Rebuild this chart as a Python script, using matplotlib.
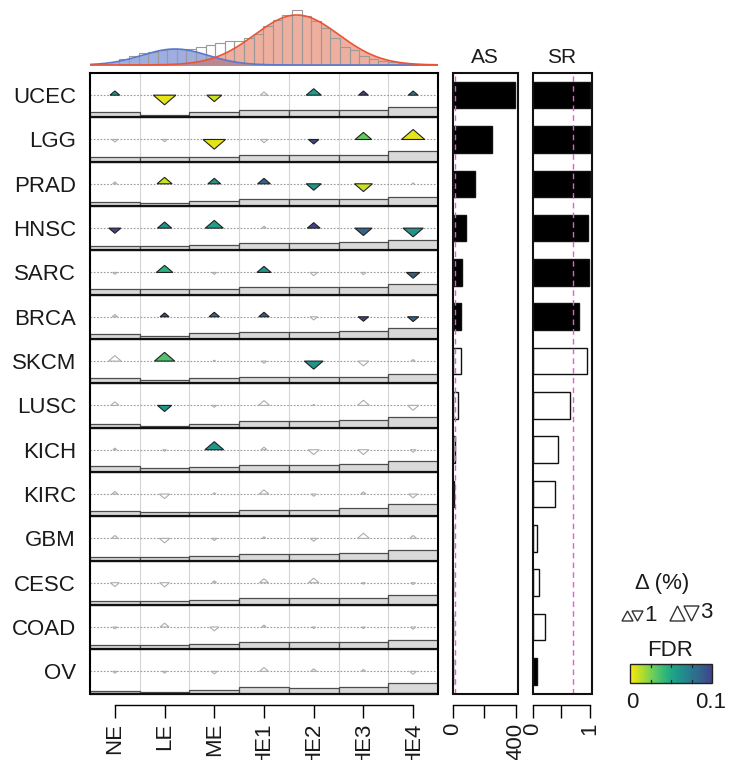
import numpy as np
import matplotlib
matplotlib.use('Agg')
import matplotlib.pyplot as plt
from matplotlib.patches import Polygon, Rectangle

plt.rcParams['font.family'] = ['Liberation Sans', 'DejaVu Sans']

# ---------------- data ----------------
cancers = ['UCEC', 'LGG', 'PRAD', 'HNSC', 'SARC', 'BRCA', 'SKCM',
           'LUSC', 'KICH', 'KIRC', 'GBM', 'CESC', 'COAD', 'OV']
groups = ['NE', 'LE', 'ME', 'HE1', 'HE2', 'HE3', 'HE4']

NS = 1.0  # FDR of non-significant changes (drawn as grey outlines)

# change in percent (sign = direction of triangle)
delta_pct = [
    [ 1.3, -3.0, -2.0,  1.0,  2.0,  1.3,  1.3],   # UCEC
    [-0.8, -0.7, -3.0, -1.0, -1.4,  2.2,  3.1],   # LGG
    [ 0.6,  2.0,  1.7,  1.7, -2.0, -2.4,  0.3],   # PRAD
    [-1.6,  1.9,  2.4,  0.6,  1.7, -2.3, -2.7],   # HNSC
    [-0.6,  2.2, -0.6,  1.9, -1.0, -0.7, -1.8],   # SARC
    [ 0.7,  1.2,  1.4,  1.4, -1.0, -1.4, -1.5],   # BRCA
    [ 1.7,  2.7,  0.3, -0.7, -2.5, -1.5,  0.5],   # SKCM
    [ 1.1, -1.9, -0.6,  1.5,  0.3,  1.6, -1.5],   # LUSC
    [ 0.5, -0.5,  2.5,  0.8, -1.5, -1.5, -0.8],   # KICH
    [ 0.8, -1.4,  0.4,  1.3, -0.7,  0.7, -1.2],   # KIRC
    [ 0.9, -1.4, -0.7,  0.5, -0.9,  1.6,  0.9],   # GBM
    [-1.2, -1.3,  0.6,  1.2,  1.4, -0.5, -0.6],   # CESC
    [-0.6,  1.2, -1.2,  0.6, -0.5, -0.5, -0.7],   # COAD
    [-0.6, -0.6, -0.8,  1.2,  0.8,  0.6, -0.9],   # OV
]

fdr_vals = [
    [0.056, 0.005, 0.010, NS,    0.055, 0.100, 0.075],  # UCEC
    [NS,    NS,    0.005, NS,    0.100, 0.030, 0.005],  # LGG
    [NS,    0.010, 0.060, 0.085, 0.060, 0.010, NS],     # PRAD
    [0.100, 0.060, 0.055, NS,    0.100, 0.085, 0.060],  # HNSC
    [NS,    0.045, NS,    0.060, NS,    NS,    0.090],  # SARC
    [NS,    0.100, 0.085, 0.090, NS,    0.100, 0.085],  # BRCA
    [NS,    0.035, NS,    NS,    0.060, NS,    NS],     # SKCM
    [NS,    0.060, NS,    NS,    NS,    NS,    NS],     # LUSC
    [NS,    NS,    0.060, NS,    NS,    NS,    NS],     # KICH
    [NS,    NS,    NS,    NS,    NS,    NS,    NS],     # KIRC
    [NS,    NS,    NS,    NS,    NS,    NS,    NS],     # GBM
    [NS,    NS,    NS,    NS,    NS,    NS,    NS],     # CESC
    [NS,    NS,    NS,    NS,    NS,    NS,    NS],     # COAD
    [NS,    NS,    NS,    NS,    NS,    NS,    NS],     # OV
]

# relative group sizes (grey step bars at the bottom of each row)
group_size = [
    [5.0, 2.7, 5.7, 7.3, 7.3, 7.3, 10.0],   # UCEC
    [4.3, 4.3, 4.3, 6.7, 6.7, 6.7, 10.7],   # LGG
    [4.3, 2.5, 5.0, 6.7, 6.7, 6.7, 9.3],    # PRAD
    [4.7, 4.0, 5.7, 7.3, 7.3, 8.3, 10.7],   # HNSC
    [5.3, 5.3, 5.3, 7.3, 7.3, 7.3, 11.0],   # SARC
    [5.0, 3.3, 5.7, 6.7, 6.7, 7.7, 10.7],   # BRCA
    [5.7, 3.3, 5.7, 6.7, 6.7, 6.7, 9.7],    # SKCM
    [4.0, 1.7, 4.0, 6.7, 6.7, 7.3, 10.7],   # LUSC
    [6.0, 4.0, 5.0, 7.3, 7.3, 8.3, 11.0],   # KICH
    [5.0, 4.0, 4.0, 6.3, 6.3, 8.0, 12.3],   # KIRC
    [3.3, 3.3, 4.3, 6.7, 6.7, 7.3, 11.0],   # GBM
    [4.3, 3.7, 5.0, 6.7, 6.7, 6.7, 10.0],   # CESC
    [4.3, 3.7, 5.0, 6.7, 6.7, 6.7, 9.3],    # COAD
    [2.7, 1.7, 4.0, 6.7, 5.7, 6.7, 10.0],   # OV
]

as_score = [398, 250, 143, 86, 60, 54, 52, 33, 17, 9, 6, 4, 4, 3]
as_filled = [1, 1, 1, 1, 1, 1, 0, 0, 0, 0, 0, 0, 0, 0]
as_cutoff = 16

sr_score = [1.0, 1.0, 1.0, 0.965, 0.98, 0.81, 0.95, 0.66, 0.44, 0.39,
            0.07, 0.11, 0.21, 0.07]
sr_filled = [1, 1, 1, 1, 1, 1, 0, 0, 0, 0, 0, 0, 0, 1]
sr_cutoff = 0.70

# top histogram (bin heights) and two-component mixture fit
hist_counts = [6, 9, 12, 13, 15, 16, 16, 16, 18, 20, 22, 24, 24, 27, 31,
               39, 45, 50, 55, 49, 44, 37, 27, 18, 15, 9, 6, 4, 3, 2, 1]
hist_start = 0.09
hist_width = 0.193
mix_means = [1.21, 3.66]
mix_sds = [0.66, 0.845]
mix_peaks = [16, 50]
mix_fill = ['#3f5fc4', '#e0603f']
mix_line = ['#5a78cc', '#ea5435']

legend_sizes = [1, 3]
fdr_ticks = [0.025, 0.05, 0.075]

# ---------------- styling helpers ----------------
W, H = 729, 760
fig = plt.figure(figsize=(W / 100, H / 100), dpi=100)
cmap = plt.get_cmap('viridis')


def fdr_color(f):
    return cmap(1.0 - 8.0 * f)


def fx(px):
    return px / W


def fy(py):
    return 1 - py / H


top_px, bot_px = 73, 693.5
main_l, main_r = 90, 438
nrow = len(cancers)
row_px = (bot_px - top_px) / nrow
col_px = (main_r - main_l) / len(groups)
TXT = '#1a1a1a'

# ---------------- main panel ----------------
ax = fig.add_axes([fx(main_l), fy(bot_px), fx(main_r - main_l), (bot_px - top_px) / H])
ax.set_xlim(-0.5, 6.5)
ax.set_ylim(nrow, 0)

for j in range(len(groups) - 1):
    ax.axvline(j + 0.5, color='#d4d4d4', lw=0.8, zorder=0)

for i in range(nrow):
    yc = i + 0.5
    ax.plot([-0.5, 6.5], [yc, yc], color='#9a9a9a', lw=0.8,
            linestyle=(0, (1.5, 1.5)), zorder=1)
    hts = np.array(group_size[i]) / row_px
    ax.bar(range(len(groups)), hts, bottom=i + 1 - hts, width=1.0,
           color='#d9d9d9', edgecolor='#4d4d4d', lw=0.9, zorder=2)
    for j in range(len(groups)):
        d = delta_pct[i][j]
        f = fdr_vals[i][j]
        w = 7.5 * abs(d) / col_px
        h = 0.43 * 7.5 * abs(d) / row_px
        tip = yc - h if d > 0 else yc + h
        pts = [(j - w / 2, yc), (j + w / 2, yc), (j, tip)]
        if f <= 0.1:
            poly = Polygon(pts, closed=True, facecolor=fdr_color(f),
                           edgecolor='#222222', lw=0.8, zorder=4)
        else:
            poly = Polygon(pts, closed=True, facecolor='white',
                           edgecolor='#adadad', lw=0.8, zorder=3)
        ax.add_patch(poly)

for i in range(1, nrow + 1):
    ax.plot([-0.5, 6.5], [i, i], color='#111111', lw=1.6, zorder=5,
            clip_on=False, solid_capstyle='butt')

for s in ['top', 'left', 'right']:
    ax.spines[s].set_linewidth(1.5)
    ax.spines[s].set_zorder(6)
ax.spines['bottom'].set_position(('outward', 8.5))
ax.spines['bottom'].set_bounds(0, 6)
ax.spines['bottom'].set_linewidth(1.0)

ax.set_yticks(np.arange(nrow) + 0.5)
ax.set_yticklabels(cancers, fontsize=16, color=TXT)
ax.tick_params(axis='y', length=0, pad=10)
ax.set_xticks(range(len(groups)))
ax.set_xticklabels(groups, rotation=90, fontsize=16, color=TXT)
ax.tick_params(axis='x', direction='out', length=9.5, width=1.0, pad=3)

# ---------------- AS / SR panels ----------------


def side_panel(left_px, right_px, values, filled, cutoff, xlim, ticks, ticklabels, title):
    a = fig.add_axes([fx(left_px), fy(bot_px), fx(right_px - left_px), (bot_px - top_px) / H])
    a.set_xlim(*xlim)
    a.set_ylim(nrow, 0)
    y = np.arange(nrow) + 0.5
    fc = ['black' if k else 'white' for k in filled]
    a.barh(y, values, height=0.6, color=fc, edgecolor='#111111', lw=1.0, zorder=2)
    a.axvline(cutoff, color='#dd60cc', lw=1.0, linestyle=(0, (4, 3)), zorder=3)
    a.add_patch(Rectangle((0, 0), 1, 1, transform=a.transAxes, fill=False,
                          lw=1.5, edgecolor='#111111', clip_on=False, zorder=6))
    for s in ['top', 'left', 'right']:
        a.spines[s].set_visible(False)
    a.spines['bottom'].set_position(('outward', 8.5))
    a.spines['bottom'].set_bounds(ticks[0], ticks[-1])
    a.spines['bottom'].set_linewidth(1.0)
    a.set_yticks([])
    a.set_xticks(ticks)
    a.set_xticklabels(ticklabels, rotation=90, fontsize=16, color=TXT)
    a.tick_params(axis='x', direction='out', length=9.5, width=1.0, pad=3)
    a.set_title(title, fontsize=15, pad=7, color=TXT)
    return a


side_panel(452.5, 517.5, as_score, as_filled, as_cutoff, (0, 412),
           [0, 200, 400], ['0', '', '400'], 'AS')
side_panel(532.5, 591.5, sr_score, sr_filled, sr_cutoff, (0, 1.026),
           [0, 0.5, 1], ['0', '', '1'], 'SR')

# ---------------- top histogram ----------------
axh = fig.add_axes([fx(main_l), fy(66), fx(main_r - main_l), 62 / H])
axh.set_xlim(-0.5, 6.5)
axh.set_ylim(-1, 61)
axh.axis('off')
xs = np.linspace(-0.5, 6.5, 500)
for m, s, p, fcol, lcol in zip(mix_means, mix_sds, mix_peaks, mix_fill, mix_line):
    yv = p * np.exp(-0.5 * ((xs - m) / s) ** 2)
    axh.fill_between(xs, 0, yv, color=fcol, alpha=0.5, lw=0, zorder=1)
    axh.plot(xs, yv, color=lcol, lw=1.2, zorder=3)
lefts = hist_start + hist_width * np.arange(len(hist_counts))
axh.bar(lefts, hist_counts, width=hist_width, align='edge', fill=False,
        edgecolor='#9a9a9a', lw=0.8, zorder=2)

# ---------------- legend ----------------
axl = fig.add_axes([fx(600), fy(720), fx(129), 165 / H])
axl.set_xlim(600, 729)
axl.set_ylim(720, 555)
axl.axis('off')
axl.text(662, 583, 'Δ (%)', fontsize=16, ha='center', va='center', color=TXT)

tri_x = [622, 670]
for k, (sz, x0) in enumerate(zip(legend_sizes, tri_x)):
    tw = 11 + 2.0 * (sz - 1)
    th = 10 + 2.5 * (sz - 1)
    yb = 621
    up = [(x0, yb), (x0 + tw, yb), (x0 + tw / 2, yb - th)]
    dn = [(x0 + tw - 1, yb - th), (x0 + 2 * tw - 1, yb - th), (x0 + 1.5 * tw - 1, yb)]
    for pts in (up, dn):
        axl.add_patch(Polygon(pts, closed=True, facecolor='white',
                              edgecolor='#333333', lw=1.0))
    axl.text(x0 + 2 * tw + 0.5, yb - th / 2 - 0.5, str(sz), fontsize=16,
             ha='left', va='center', color=TXT)

axl.text(670, 650, 'FDR', fontsize=16, ha='center', va='center', color=TXT)
cb_l, cb_r, cb_t, cb_b = 630, 712, 664, 683
grad = np.linspace(0, 0.1, 256)
axl.imshow(np.array([fdr_color(g) for g in grad])[None, :, :], aspect='auto',
           extent=[cb_l, cb_r, cb_b, cb_t], zorder=1)
axl.add_patch(Rectangle((cb_l, cb_t), cb_r - cb_l, cb_b - cb_t, fill=False,
                        edgecolor='#222222', lw=1.0, zorder=3))
for t in fdr_ticks:
    xt = cb_l + (cb_r - cb_l) * t / 0.1
    axl.plot([xt, xt], [cb_t, cb_t + 3], color='#222222', lw=0.9, zorder=3)
    axl.plot([xt, xt], [cb_b - 3, cb_b], color='#222222', lw=0.9, zorder=3)
axl.text(632, 703, '0', fontsize=16, ha='center', va='center', color=TXT)
axl.text(711, 703, '0.1', fontsize=16, ha='center', va='center', color=TXT)
axl.set_xlim(600, 729)
axl.set_ylim(720, 555)

fig.savefig('out.png', dpi=100)
